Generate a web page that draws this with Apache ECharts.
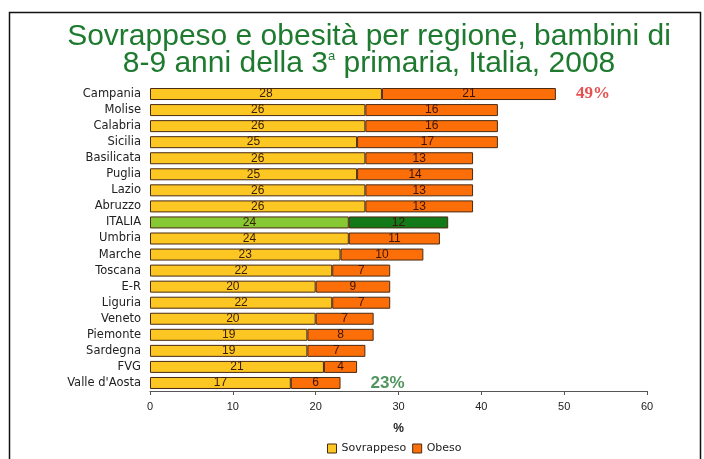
<!DOCTYPE html>
<html>
<head>
<meta charset="utf-8">
<script src="https://cdn.jsdelivr.net/npm/echarts@6/dist/echarts.min.js"></script>
<style>
  html, body { margin: 0; padding: 0; background: #ffffff; }
  #chart { width: 704px; height: 459px; }
</style>
</head>
<body>
<div id="chart"></div>
<script>
// Regions, top to bottom
const regions = ['Campania', 'Molise', 'Calabria', 'Sicilia', 'Basilicata', 'Puglia', 'Lazio', 'Abruzzo',
  'ITALIA', 'Umbria', 'Marche', 'Toscana', 'E-R', 'Liguria', 'Veneto', 'Piemonte', 'Sardegna', 'FVG', "Valle d'Aosta"];
// Percentages of overweight and obese children
const sovrappeso = [28, 26, 26, 25, 26, 25, 26, 26, 24, 24, 23, 22, 20, 22, 20, 19, 19, 21, 17];
const obeso      = [21, 16, 16, 17, 13, 14, 13, 13, 12, 11, 10, 7, 9, 7, 7, 8, 7, 4, 6];
const xTicks = [0, 10, 20, 30, 40, 50, 60];

const national = 'ITALIA';
const yellow = '#fcc623', orange = '#fc6e08';
const lightGreen = '#86c935', darkGreen = '#137a1a';
const edge = '#4a2a12';

function seg(values, base, natColor) {
  return values.map((v, i) => regions[i] === national
    ? { value: v, itemStyle: { color: natColor } }
    : { value: v, itemStyle: { color: base } });
}

// Totals shown beside the highest and lowest region
const hiIdx = 0, loIdx = regions.length - 1;
const totals = [
  { value: [sovrappeso[hiIdx] + obeso[hiIdx], regions[hiIdx]], color: '#e02424', font: 'Liberation Serif', size: 17, gap: 20 },
  { value: [sovrappeso[loIdx] + obeso[loIdx], regions[loIdx]], color: '#237a35', font: 'Arial', size: 17, gap: 30 }
];

const chart = echarts.init(document.getElementById('chart'));
chart.setOption({
  animation: false,
  backgroundColor: '#ffffff',
  title: {
    text: 'Sovrappeso e obesità per regione, bambini di\n8-9 anni della 3{s|a} primaria, Italia, 2008',
    left: 364, textAlign: 'center', top: 18,
    textStyle: {
      color: '#1d7a2e', fontFamily: 'Arial', fontSize: 30, fontWeight: 'normal', lineHeight: 27,
      rich: { s: { fontSize: 13, color: '#1d7a2e', fontFamily: 'Arial', verticalAlign: 'top', lineHeight: 27, padding: [0, 0, 12, 0] } }
    }
  },
  graphic: [{
    type: 'rect', shape: { x: 9.5, y: 12.5, width: 691, height: 470 },
    style: { fill: 'none', stroke: '#111', lineWidth: 1.5 }, silent: true
  }],
  legend: {
    bottom: 0, left: 322,
    itemWidth: 9, itemHeight: 9, itemGap: 6,
    textStyle: { fontFamily: 'DejaVu Sans', fontSize: 11, color: '#222' },
    data: [
      { name: 'Sovrappeso', icon: 'rect', itemStyle: { color: yellow, borderColor: edge, borderWidth: 1 } },
      { name: 'Obeso', icon: 'rect', itemStyle: { color: orange, borderColor: edge, borderWidth: 1 } }
    ]
  },
  grid: { left: 150, right: 57, top: 86, bottom: 68, containLabel: false },
  xAxis: {
    type: 'value', min: xTicks[0], max: xTicks[xTicks.length - 1], interval: 10,
    name: '%', nameLocation: 'middle', nameGap: 32,
    nameTextStyle: { fontFamily: 'Arial', fontSize: 12, fontWeight: 'bold', color: '#222' },
    axisLine: { show: true, lineStyle: { color: '#555', width: 1 } },
    axisTick: { show: true, length: 4, lineStyle: { color: '#555' } },
    axisLabel: { fontFamily: 'Arial', fontSize: 11, color: '#222', margin: 10 },
    splitLine: { show: false }
  },
  yAxis: {
    type: 'category', data: regions, inverse: true,
    axisLine: { show: false }, axisTick: { show: false },
    axisLabel: { fontFamily: 'DejaVu Sans', fontSize: 11.5, color: '#222', margin: 9 }
  },
  series: [
    {
      name: 'Sovrappeso', type: 'bar', stack: 'tot', barWidth: 12,
      data: seg(sovrappeso, yellow, lightGreen),
      itemStyle: { borderColor: edge, borderWidth: 1 },
      label: { show: true, position: 'inside', fontFamily: 'Arial', fontSize: 12, color: '#3a2006' }
    },
    {
      name: 'Obeso', type: 'bar', stack: 'tot', barWidth: 12,
      data: seg(obeso, orange, darkGreen),
      itemStyle: { borderColor: edge, borderWidth: 1 },
      label: { show: true, position: 'inside', fontFamily: 'Arial', fontSize: 12, color: '#3a1404' }
    },
    {
      name: 'Totale', type: 'scatter', symbolSize: 0, silent: true,
      data: totals.map(t => ({
        value: t.value,
        label: {
          show: true, position: 'right', distance: t.gap,
          formatter: p => p.value[0] + '%',
          color: t.color, fontFamily: t.font, fontSize: t.size, fontWeight: 'bold'
        }
      }))
    }
  ]
});
</script>
</body>
</html>
